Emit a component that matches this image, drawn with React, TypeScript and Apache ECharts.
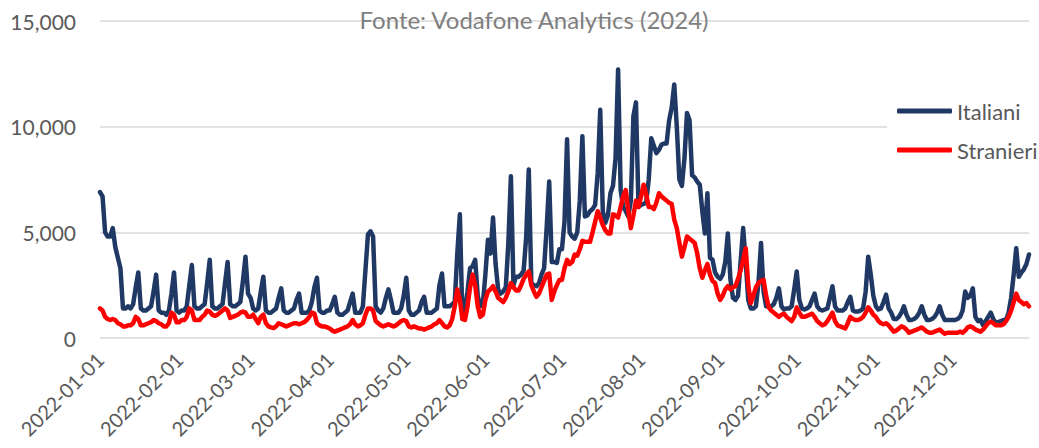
import React, { useEffect, useRef } from "react";
import * as echarts from "echarts";

// ---- data (daily values, 2022) ----
const italianiJan = [6900, 6700, 5000, 4800, 4800, 5200, 4300, 3800, 3300, 1400, 1400, 1500, 1400, 1600, 2400, 3100, 1400, 1300, 1300, 1400, 1500, 2200, 3000, 1300, 1200, 1200, 1100, 1300, 2100, 3100, 1300];
const italianiFeb = [1200, 1300, 1300, 1500, 2500, 3450, 1500, 1400, 1400, 1500, 1600, 2600, 3700, 1500, 1400, 1400, 1500, 1600, 2600, 3600, 1600, 1500, 1500, 1600, 1700, 2700, 3850, 2100];
const italianiMar = [1900, 1400, 1300, 1400, 2200, 2900, 1300, 1200, 1200, 1300, 1400, 1900, 2350, 1300, 1200, 1200, 1300, 1400, 1800, 2100, 1200, 1200, 1200, 1300, 1700, 2400, 2850, 1300, 1200, 1200, 1300];
const italianiApr = [1300, 1600, 1950, 1200, 1100, 1100, 1200, 1300, 1700, 2100, 1200, 1200, 1200, 1500, 3200, 4900, 5050, 4800, 1500, 1300, 1200, 1400, 1900, 2300, 1800, 1200, 1200, 1200, 1400, 2000];
const italianiMay = [2850, 1300, 1100, 1100, 1200, 1300, 1700, 1950, 1200, 1200, 1200, 1300, 1400, 2500, 3050, 1500, 1500, 1500, 1600, 1700, 4000, 5850, 900, 1400, 2200, 3300, 3400, 3700, 2000, 1500, 1600];
const italianiJun = [3000, 4650, 4000, 5700, 3500, 2300, 2100, 2200, 2400, 4500, 7650, 2500, 2900, 2900, 3000, 3200, 4800, 7970, 2600, 2500, 2450, 2600, 3000, 3300, 5200, 7400, 3600, 3600, 3550, 4200];
const italianiJul = [4200, 5500, 9400, 5000, 4800, 4700, 5000, 6500, 9550, 5750, 5800, 6000, 6100, 6300, 7800, 10800, 6000, 5450, 5800, 6850, 7200, 8500, 12700, 7000, 6200, 6000, 5750, 6500, 10500, 11150, 6200];
const italianiAug = [6300, 6350, 6400, 7500, 9450, 9100, 8750, 8900, 9150, 9200, 9200, 10300, 10900, 12000, 10000, 7500, 7200, 8500, 10650, 10300, 7700, 7600, 7400, 7250, 6000, 4950, 6850, 3800, 3700, 3100, 2900];
const italianiSep = [2800, 3000, 3600, 4950, 2800, 1900, 1800, 2000, 3600, 5200, 3600, 1800, 1400, 1400, 1500, 2600, 4500, 2200, 1500, 1500, 1500, 1600, 1900, 2350, 1500, 1350, 1400, 1400, 1500, 2300];
const italianiOct = [3150, 1800, 1400, 1350, 1400, 1500, 1800, 2100, 1500, 1350, 1300, 1350, 1400, 1900, 2450, 1500, 1300, 1300, 1300, 1400, 1700, 1950, 1300, 1250, 1250, 1300, 1400, 2200, 3850, 3000, 2000];
const italianiNov = [1500, 1350, 1400, 1700, 2050, 1400, 1200, 900, 900, 1000, 1200, 1500, 1100, 850, 850, 900, 1000, 1200, 1500, 1100, 850, 850, 900, 1000, 1200, 1500, 1100, 850, 850, 850];
const italianiDec = [850, 850, 900, 1000, 1300, 2200, 1900, 2000, 2350, 1000, 800, 850, 600, 800, 1000, 1200, 900, 700, 750, 800, 850, 850, 1200, 1900, 3000, 4250, 2900, 3100, 3250, 3500, 3950];

const stranieriJan = [1400, 1300, 1000, 900, 850, 900, 850, 700, 650, 550, 550, 600, 600, 700, 1000, 900, 600, 600, 650, 700, 750, 850, 800, 700, 650, 550, 550, 700, 1200, 1100, 750];
const stranieriFeb = [750, 850, 850, 1000, 1400, 1300, 850, 850, 850, 1000, 1100, 1300, 1250, 1100, 1050, 1100, 1200, 1300, 1400, 1300, 950, 1000, 1050, 1100, 1200, 1250, 1200, 1000];
const stranieriMar = [1000, 1100, 900, 700, 1000, 1100, 700, 550, 500, 470, 550, 700, 650, 600, 550, 600, 650, 700, 700, 650, 700, 750, 850, 1000, 1200, 1150, 700, 600, 550, 550, 500];
const stranieriApr = [450, 350, 300, 350, 400, 450, 500, 550, 650, 850, 650, 550, 600, 700, 1100, 1400, 1400, 1300, 800, 700, 600, 550, 600, 650, 600, 550, 600, 700, 800, 850];
const stranieriMay = [800, 550, 500, 550, 500, 450, 450, 400, 450, 500, 550, 650, 700, 850, 700, 550, 500, 600, 900, 1500, 2300, 1800, 900, 850, 1500, 2400, 3000, 2500, 1500, 1000, 1100];
const stranieriJun = [1800, 2200, 2300, 2450, 2200, 1900, 1800, 1700, 1900, 2200, 2600, 2400, 2250, 2250, 2500, 2800, 3000, 3150, 2500, 2200, 1950, 2100, 2400, 2700, 3000, 3050, 1800, 2200, 2500, 2750];
const stranieriJul = [2750, 3300, 3700, 3500, 3600, 3950, 3900, 4200, 4600, 4550, 4550, 4550, 5000, 5500, 6000, 5700, 5350, 5100, 4950, 4950, 5850, 5800, 5700, 6200, 6700, 7000, 6000, 5200, 5800, 6500, 6200];
const stranieriAug = [6700, 7250, 6800, 6200, 6200, 6100, 6400, 6850, 6700, 6600, 6500, 6400, 6350, 5600, 5200, 4500, 3850, 4300, 4800, 4700, 4600, 4500, 4000, 3300, 2850, 3200, 3500, 3000, 2700, 2600, 2100];
const stranieriSep = [1800, 2000, 2300, 2450, 2300, 2400, 2450, 2800, 3200, 3700, 4250, 2500, 1650, 2000, 2400, 2600, 2700, 2750, 2000, 1450, 1300, 1200, 1100, 1000, 1100, 1150, 1000, 900, 800, 1000];
const stranieriOct = [1450, 1200, 1000, 1000, 1050, 1100, 1150, 1000, 800, 700, 600, 650, 800, 1000, 1200, 800, 600, 550, 500, 450, 700, 1000, 900, 850, 850, 900, 1000, 1200, 1450, 1300, 1100];
const stranieriNov = [1000, 800, 700, 650, 700, 600, 450, 300, 350, 450, 550, 500, 400, 250, 300, 350, 400, 450, 500, 400, 300, 250, 250, 300, 350, 400, 300, 200, 250, 250];
const stranieriDec = [250, 250, 250, 300, 250, 350, 500, 550, 500, 400, 350, 300, 400, 550, 700, 780, 700, 600, 600, 600, 650, 800, 1000, 1300, 1700, 2100, 1800, 1700, 1600, 1650, 1500];

const italiani = [
  ...italianiJan, ...italianiFeb, ...italianiMar, ...italianiApr, ...italianiMay, ...italianiJun,
  ...italianiJul, ...italianiAug, ...italianiSep, ...italianiOct, ...italianiNov, ...italianiDec,
];
const stranieri = [
  ...stranieriJan, ...stranieriFeb, ...stranieriMar, ...stranieriApr, ...stranieriMay, ...stranieriJun,
  ...stranieriJul, ...stranieriAug, ...stranieriSep, ...stranieriOct, ...stranieriNov, ...stranieriDec,
];

const startDate = "2022-01-01";
const dates: string[] = italiani.map((_, i) => {
  const d = new Date(startDate + "T00:00:00Z");
  d.setUTCDate(d.getUTCDate() + i);
  return d.toISOString().slice(0, 10);
});

const yTicks = { min: 0, max: 15000, interval: 5000 };
const titleText = "Fonte: Vodafone Analytics (2024)";
const seriesNames = ["Italiani", "Stranieri"];

const FONT = "Lato, 'Open Sans', sans-serif";
const TEXT = "#595959";

export default function App() {
  const ref = useRef<HTMLDivElement>(null);

  useEffect(() => {
    document.body.style.margin = "0";
    if (!ref.current) return;
    const chart = echarts.init(ref.current, null, { renderer: "svg" });
    chart.setOption({
      animation: false,
      backgroundColor: "#ffffff",
      grid: { left: 100, right: 10, top: 21, bottom: 110, containLabel: false },
      graphic: [
        {
          type: "text",
          x: 534,
          y: 19,
          z: 100,
          style: {
            text: titleText,
            fill: "#7f7f7f",
            fontSize: 24,
            fontFamily: FONT,
            align: "center",
            verticalAlign: "middle",
          },
        },
      ],
      legend: {
        orient: "vertical",
        left: 887,
        top: 89,
        padding: [10, 10, 10, 10],
        itemGap: 15,
        itemWidth: 55,
        itemHeight: 5,
        backgroundColor: "#ffffff",
        textStyle: { fontSize: 22, color: TEXT, fontFamily: FONT, lineHeight: 24 },
        data: [
          { name: seriesNames[0], icon: "roundRect" },
          { name: seriesNames[1], icon: "roundRect" },
        ],
      },
      xAxis: {
        type: "category",
        data: dates,
        boundaryGap: false,
        axisLine: { show: false },
        axisTick: { show: false },
        splitLine: { show: false },
        axisLabel: {
          interval: (_i: number, v: string) => v.endsWith("-01") && v.slice(5, 7) !== "" && v.slice(8) === "01",
          rotate: 45,
          margin: 18,
          color: TEXT,
          fontSize: 20,
          fontFamily: FONT,
        },
      },
      yAxis: {
        type: "value",
        min: yTicks.min,
        max: yTicks.max,
        interval: yTicks.interval,
        axisLine: { show: false },
        axisTick: { show: false },
        axisLabel: {
          margin: 24,
          color: TEXT,
          fontSize: 21,
          fontFamily: FONT,
          formatter: (v: number) => v.toLocaleString("en-US"),
        },
        splitLine: { lineStyle: { color: "#d9d9d9", width: 1.5 } },
      },
      series: [
        {
          name: seriesNames[0],
          type: "line",
          data: italiani,
          showSymbol: false,
          symbol: "none",
          color: "#1f3864",
          lineStyle: { width: 4.5, color: "#1f3864", join: "round", cap: "round" },
        },
        {
          name: seriesNames[1],
          type: "line",
          data: stranieri,
          showSymbol: false,
          symbol: "none",
          color: "#ff0000",
          lineStyle: { width: 4.5, color: "#ff0000", join: "round", cap: "round" },
        },
      ],
    });
    return () => chart.dispose();
  }, []);

  return <div ref={ref} style={{ width: 1039, height: 448 }} />;
}
